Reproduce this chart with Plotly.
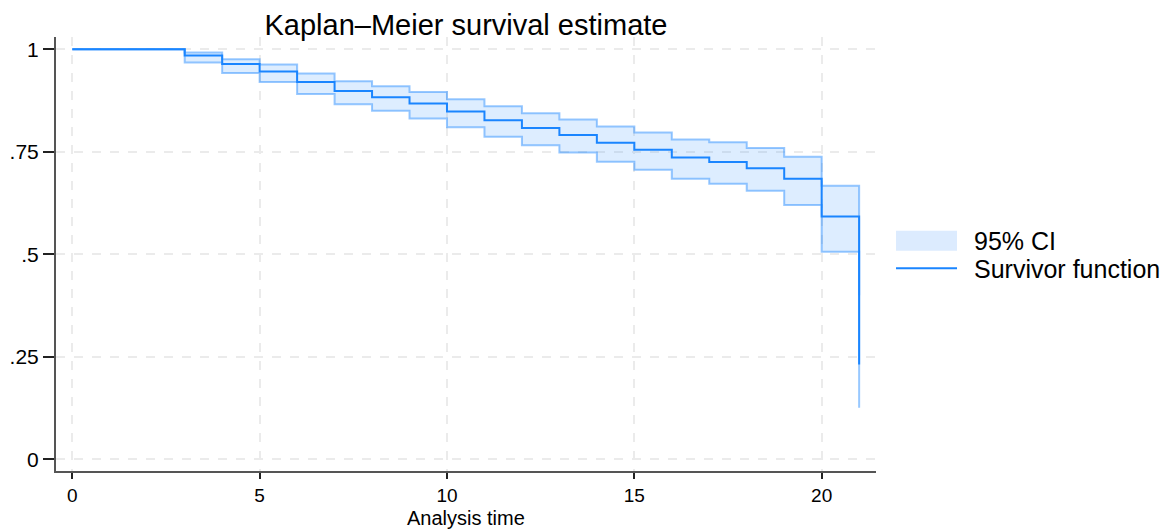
import plotly.graph_objects as go

# ---- data ----
times = [0, 3, 4, 5, 6, 7, 8, 9, 10, 11, 12, 13, 14, 15, 16, 17, 18, 19, 20, 21]
survivor = [1.0, 0.985, 0.964, 0.946, 0.920, 0.898, 0.883, 0.868, 0.848, 0.827,
            0.808, 0.791, 0.772, 0.755, 0.736, 0.725, 0.710, 0.684, 0.592, 0.231]
ci_upper = [1.0, 0.992, 0.976, 0.963, 0.941, 0.922, 0.910, 0.896, 0.878, 0.861,
            0.844, 0.829, 0.812, 0.797, 0.780, 0.773, 0.759, 0.738, 0.667, 0.400]
ci_lower = [1.0, 0.968, 0.942, 0.920, 0.891, 0.866, 0.850, 0.831, 0.810, 0.787,
            0.766, 0.748, 0.726, 0.706, 0.684, 0.672, 0.655, 0.620, 0.506, 0.126]
x_ticks = [0, 5, 10, 15, 20]
y_ticks = [0, 0.25, 0.5, 0.75, 1]
y_tick_labels = ["0", ".25", ".5", ".75", "1"]
legend_labels = ["95% CI", "Survivor function"]
x_title = "Analysis time"
chart_title = "Kaplan–Meier survival estimate"

LINE = "#1a85ff"
CI_LINE = "rgba(26,133,255,0.45)"
CI_FILL = "rgba(26,133,255,0.15)"
FONT = "Liberation Sans, Arial, Helvetica, sans-serif"

W, H = 1162, 521  # page body adds an 8px offset

fig = go.Figure()
fig.add_trace(go.Scatter(x=times, y=ci_upper, mode="lines", line=dict(shape="hv", color=CI_LINE, width=2),
                         showlegend=False, hoverinfo="skip"))
fig.add_trace(go.Scatter(x=times, y=ci_lower, mode="lines", line=dict(shape="hv", color=CI_LINE, width=2),
                         fill="tonexty", fillcolor=CI_FILL, showlegend=False, name=legend_labels[0]))
fig.add_trace(go.Scatter(x=times, y=survivor, mode="lines", line=dict(shape="hv", color=LINE, width=2),
                         showlegend=False, name=legend_labels[1]))

# manual legend (paper coordinates)
fig.add_shape(type="rect", xref="paper", yref="paper", x0=1.0244, x1=1.0988, y0=0.5076, y1=0.5537,
              fillcolor="#dcebfe", line=dict(width=0))
fig.add_shape(type="line", xref="paper", yref="paper", x0=1.0244, x1=1.0988, y0=0.467, y1=0.467,
              line=dict(color=LINE, width=2))
fig.add_annotation(xref="paper", yref="paper", x=1.117, y=0.530, text=legend_labels[0], showarrow=False,
                   xanchor="left", yanchor="middle", font=dict(family=FONT, size=25, color="#000"))
fig.add_annotation(xref="paper", yref="paper", x=1.117, y=0.465, text=legend_labels[1], showarrow=False,
                   xanchor="left", yanchor="middle", font=dict(family=FONT, size=25, color="#000"))

# x-axis title placed as annotation below the tick labels
fig.add_annotation(xref="paper", yref="paper", x=0.5, y=-0.1083, text=x_title, showarrow=False,
                   xanchor="center", yanchor="middle", borderpad=0,
                   font=dict(family=FONT, size=20, color="#000"))

fig.update_layout(
    width=W, height=H,
    margin=dict(l=48, r=294, t=29, b=58),
    paper_bgcolor="white", plot_bgcolor="white",
    font=dict(family=FONT, color="#000"),
    title=dict(text=chart_title, x=0.5, xref="paper", xanchor="center",
               y=1 - 17 / H, yref="container", yanchor="middle",
               font=dict(family=FONT, size=29, color="#000")),
    showlegend=False,
)
fig.update_xaxes(
    range=[-0.435, 21.45], tickvals=x_ticks, ticks="outside", ticklen=6, tickwidth=1.5, tickcolor="#222",
    showline=True, linecolor="#555", linewidth=2, mirror=False, zeroline=False, automargin=False,
    showgrid=True, gridcolor="#ebebeb", gridwidth=1.5, griddash="dash",
    tickfont=dict(family=FONT, size=19, color="#000"),
)
fig.update_yaxes(
    range=[-0.0285, 1.030], tickvals=y_ticks, ticktext=y_tick_labels, ticks="outside", ticklen=11,
    tickwidth=1.5, tickcolor="#222", automargin=False,
    showline=True, linecolor="#555", linewidth=2, zeroline=False,
    showgrid=True, gridcolor="#ebebeb", gridwidth=1.5, griddash="dash",
    tickfont=dict(family=FONT, size=21, color="#000"),
)

fig.write_html("out.html")
